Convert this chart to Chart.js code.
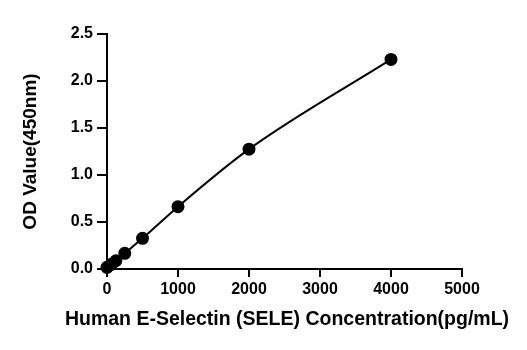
<!DOCTYPE html>
<html>
<head>
<meta charset="utf-8">
<script src="https://cdn.jsdelivr.net/npm/chart.js"></script>
<style>
  html, body { margin: 0; padding: 0; background: #fff; }
  #wrap { width: 527px; height: 350px; }
</style>
</head>
<body>
<div id="wrap"><canvas id="myChart" width="527" height="350"></canvas></div>
<script>
// standard curve values
const concentrations = [0, 62.5, 125, 250, 500, 1000, 2000, 4000];
const odValues = [0.018, 0.05, 0.088, 0.167, 0.326, 0.663, 1.275, 2.23];
const xTicks = [0, 1000, 2000, 3000, 4000, 5000];
const yTicks = [0, 0.5, 1.0, 1.5, 2.0, 2.5];
const xTitle = 'Human E-Selectin (SELE) Concentration(pg/mL)';

const points = concentrations.map((c, i) => ({ x: c, y: odValues[i] }));

const family = "'Liberation Sans', Arial, sans-serif";
const font = { family: family, weight: 'bold' };

// the built-in scale title gets squeezed to the chart width, so draw it here
const xTitlePlugin = {
  id: 'xTitle',
  afterDraw(chart) {
    const ctx = chart.ctx;
    ctx.save();
    ctx.font = 'bold 19.5px ' + family;
    ctx.fillStyle = '#000';
    ctx.textAlign = 'center';
    ctx.textBaseline = 'middle';
    ctx.fillText(xTitle, 287, 320);
    ctx.restore();
  }
};

var config = {
  type: 'scatter',
  data: {
    datasets: [{
      data: points,
      showLine: true,
      clip: false,
      borderColor: '#000',
      backgroundColor: '#000',
      borderWidth: 2,
      pointRadius: 5.5,
      pointHoverRadius: 5.5,
      cubicInterpolationMode: 'monotone'
    }]
  },
  options: {
    responsive: false,
    animation: false,
    layout: { padding: { left: 0, right: 65, top: 34, bottom: 0 } },
    plugins: { legend: { display: false }, tooltip: { enabled: false } },
    scales: {
      x: {
        type: 'linear',
        min: 0,
        max: 5000,
        afterBuildTicks: axis => { axis.ticks = xTicks.map(v => ({ value: v })); },
        afterFit: axis => { axis.height = 81; },
        ticks: { color: '#000', font: { ...font, size: 16 }, padding: 3, callback: v => String(v) },
        grid: { drawOnChartArea: false, drawTicks: true, tickLength: 8, color: '#000', lineWidth: 2 },
        border: { color: '#000', width: 2 },
        title: { display: false }
      },
      y: {
        type: 'linear',
        min: 0,
        max: 2.5,
        afterBuildTicks: axis => { axis.ticks = yTicks.map(v => ({ value: v })); },
        afterFit: axis => { axis.width = 107; },
        ticks: { color: '#000', font: { ...font, size: 16 }, padding: 4, callback: v => v.toFixed(1) },
        grid: { drawOnChartArea: false, drawTicks: true, tickLength: 10, color: '#000', lineWidth: 2 },
        border: { color: '#000', width: 2 },
        title: {
          display: true,
          text: 'OD Value(450nm)',
          color: '#000',
          font: { ...font, size: 19 },
          padding: { top: 19, bottom: 0 }
        }
      }
    }
  },
  plugins: [xTitlePlugin]
};

new Chart(document.getElementById('myChart').getContext('2d'), config);
</script>
</body>
</html>
